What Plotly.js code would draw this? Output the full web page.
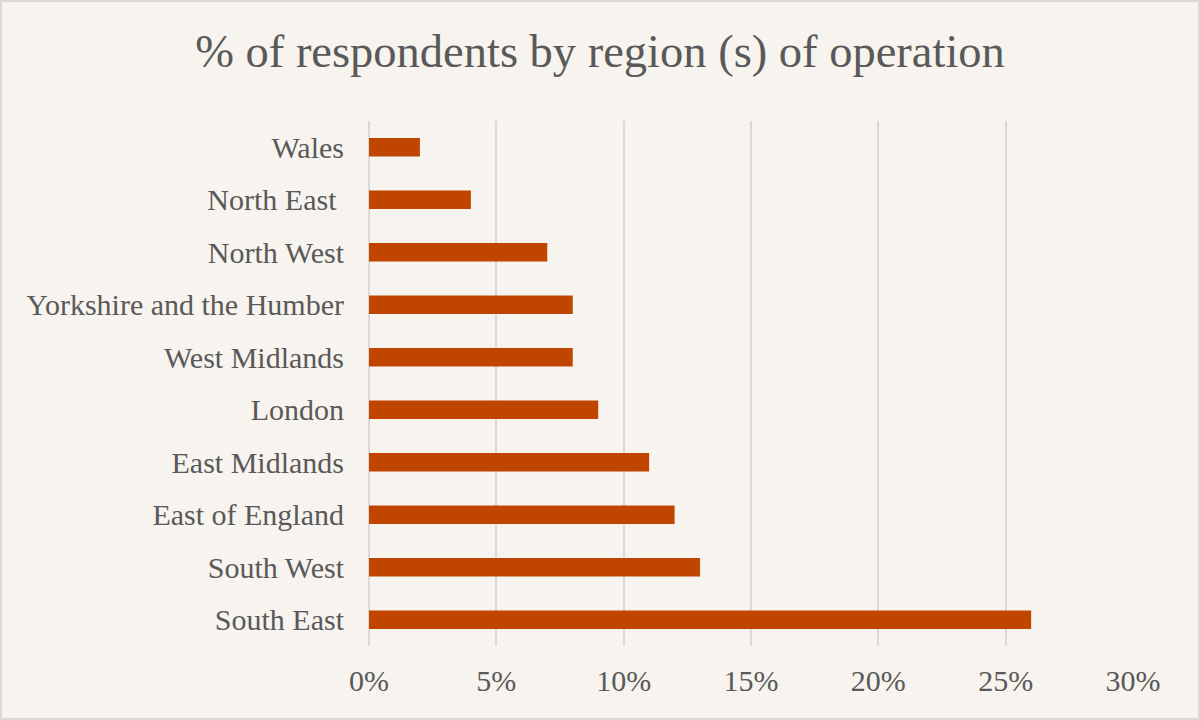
<!DOCTYPE html>
<html>
<head>
<meta charset="utf-8">
<script src="https://cdn.plot.ly/plotly-3.0.1.min.js"></script>
<style>
  html, body { margin: 0; padding: 0; background: #F7F3EE; }
  #chart { width: 1200px; height: 720px; box-sizing: border-box; border: 2px solid #D9D9D9; }
</style>
</head>
<body>
<div id="chart"></div>
<script>
var CHART = document.getElementById('chart');

// bottom to top, as drawn
var regions = ['South East', 'South West', 'East of England', 'East Midlands', 'London',
               'West Midlands', 'Yorkshire and the Humber', 'North West', 'North East ', 'Wales'];
var shares = [0.26, 0.13, 0.12, 0.11, 0.09, 0.08, 0.08, 0.07, 0.04, 0.02];

var trace = {x: shares,
             y: regions,
             type: 'bar',
             orientation: 'h',
             marker: {color: '#C04600'},
             hoverinfo: 'x+y'
            };

var layout = {width: 1196, height: 716,
              paper_bgcolor: '#F7F3EE',
              plot_bgcolor: '#F7F3EE',
              font: {family: '"Liberation Serif", "Times New Roman", serif', color: '#595959', size: 30},
              title: {text: '% of respondents by region (s) of operation',
                      font: {size: 46.5, color: '#595959'},
                      x: 0.5, xanchor: 'center', y: 0.932, yanchor: 'middle'},
              showlegend: false,
              bargap: 0.65,
              margin: {l: 367, r: 65, t: 119, b: 72},
              xaxis: {range: [0, 0.30],
                      dtick: 0.05,
                      tickformat: '.0%',
                      showgrid: true,
                      gridcolor: '#D9D9D9',
                      gridwidth: 2,
                      zeroline: true,
                      zerolinecolor: '#D9D9D9',
                      zerolinewidth: 2,
                      showline: false,
                      ticks: '',
                      ticklen: 0,
                      ticklabelstandoff: 14,
                      tickfont: {size: 30}},
              yaxis: {showgrid: false,
                      zeroline: false,
                      showline: false,
                      ticks: '',
                      ticklabelstandoff: 24,
                      tickfont: {size: 30}}
             };

var config = {'displayModeBar': false, 'responsive': false};

Plotly.newPlot(CHART, [trace], layout, config);
</script>
</body>
</html>
